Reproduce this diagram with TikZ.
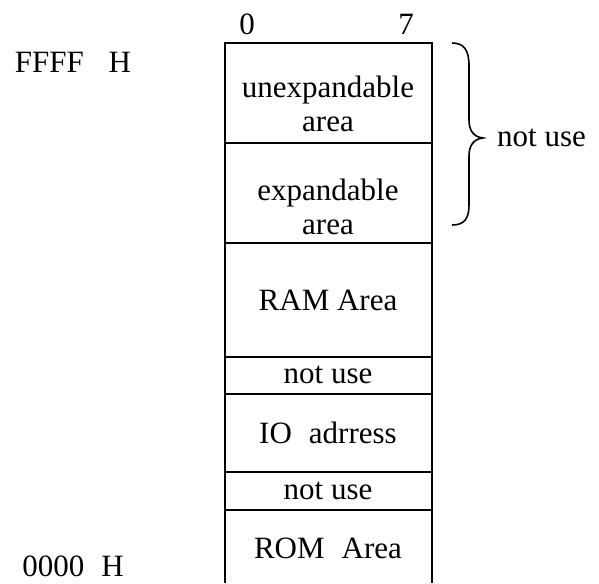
\documentclass[tikz,border=0pt]{standalone}
\usepackage{fontspec}
\setmainfont{Liberation Serif}
\begin{document}
\begin{tikzpicture}[x=1pt,y=-1pt,
  rule/.style={line width=2pt},
  lbl/.style={inner sep=0pt,font=\fontsize{31}{34}\selectfont,align=center}]
\useasboundingbox (0,0) rectangle (599,583);
% memory column outline and cell dividers
\coordinate (tl) at (225,43);
\coordinate (tr) at (432,43);
\coordinate (bl) at (225,583);
\coordinate (br) at (432,583);
\draw[rule] (bl) -- (tl) -- (tr) -- (br);
\foreach \y in {143,243,357,394,472,510}
  \draw[rule] (225,\y) -- (432,\y);
% bit numbers
\node[lbl] (b0) at (247,24) {0};
\node[lbl] (b7) at (406,24) {7};
% addresses
\node[lbl] (hi) at (73,62) {FFFF\hspace{0.8em}H};
\node[lbl] (lo) at (73,566) {0000\hspace{0.55em}H};
% cell labels
\node[lbl] (unexp) at (328,104) {unexpandable\\area};
\node[lbl] (exp) at (328,207) {expandable\\area};
\node[lbl] (ram) at (328,300) {RAM Area};
\node[lbl] (nu1) at (328,375) {not use};
\node[lbl] (io) at (328,433) {IO\hspace{0.3em} adrress};
\node[lbl] (nu2) at (328,491) {not use};
\node[lbl] (rom) at (328,548) {ROM\hspace{0.3em} Area};
% brace over the two upper cells
\coordinate (bt) at (452,43);
\coordinate (bb) at (452,225);
\coordinate (tip) at (483,138);
\draw[line width=1.6pt] (bt) .. controls (464,43) and (469,50) .. (469,66)
  -- (469,120) .. controls (469,131) and (474,137) .. (tip)
  .. controls (474,139) and (469,145) .. (469,156)
  -- (469,205) .. controls (469,219) and (464,225) .. (bb);
\node[lbl,anchor=west] (nu0) at (497,138) {not use};
\end{tikzpicture}
\end{document}
